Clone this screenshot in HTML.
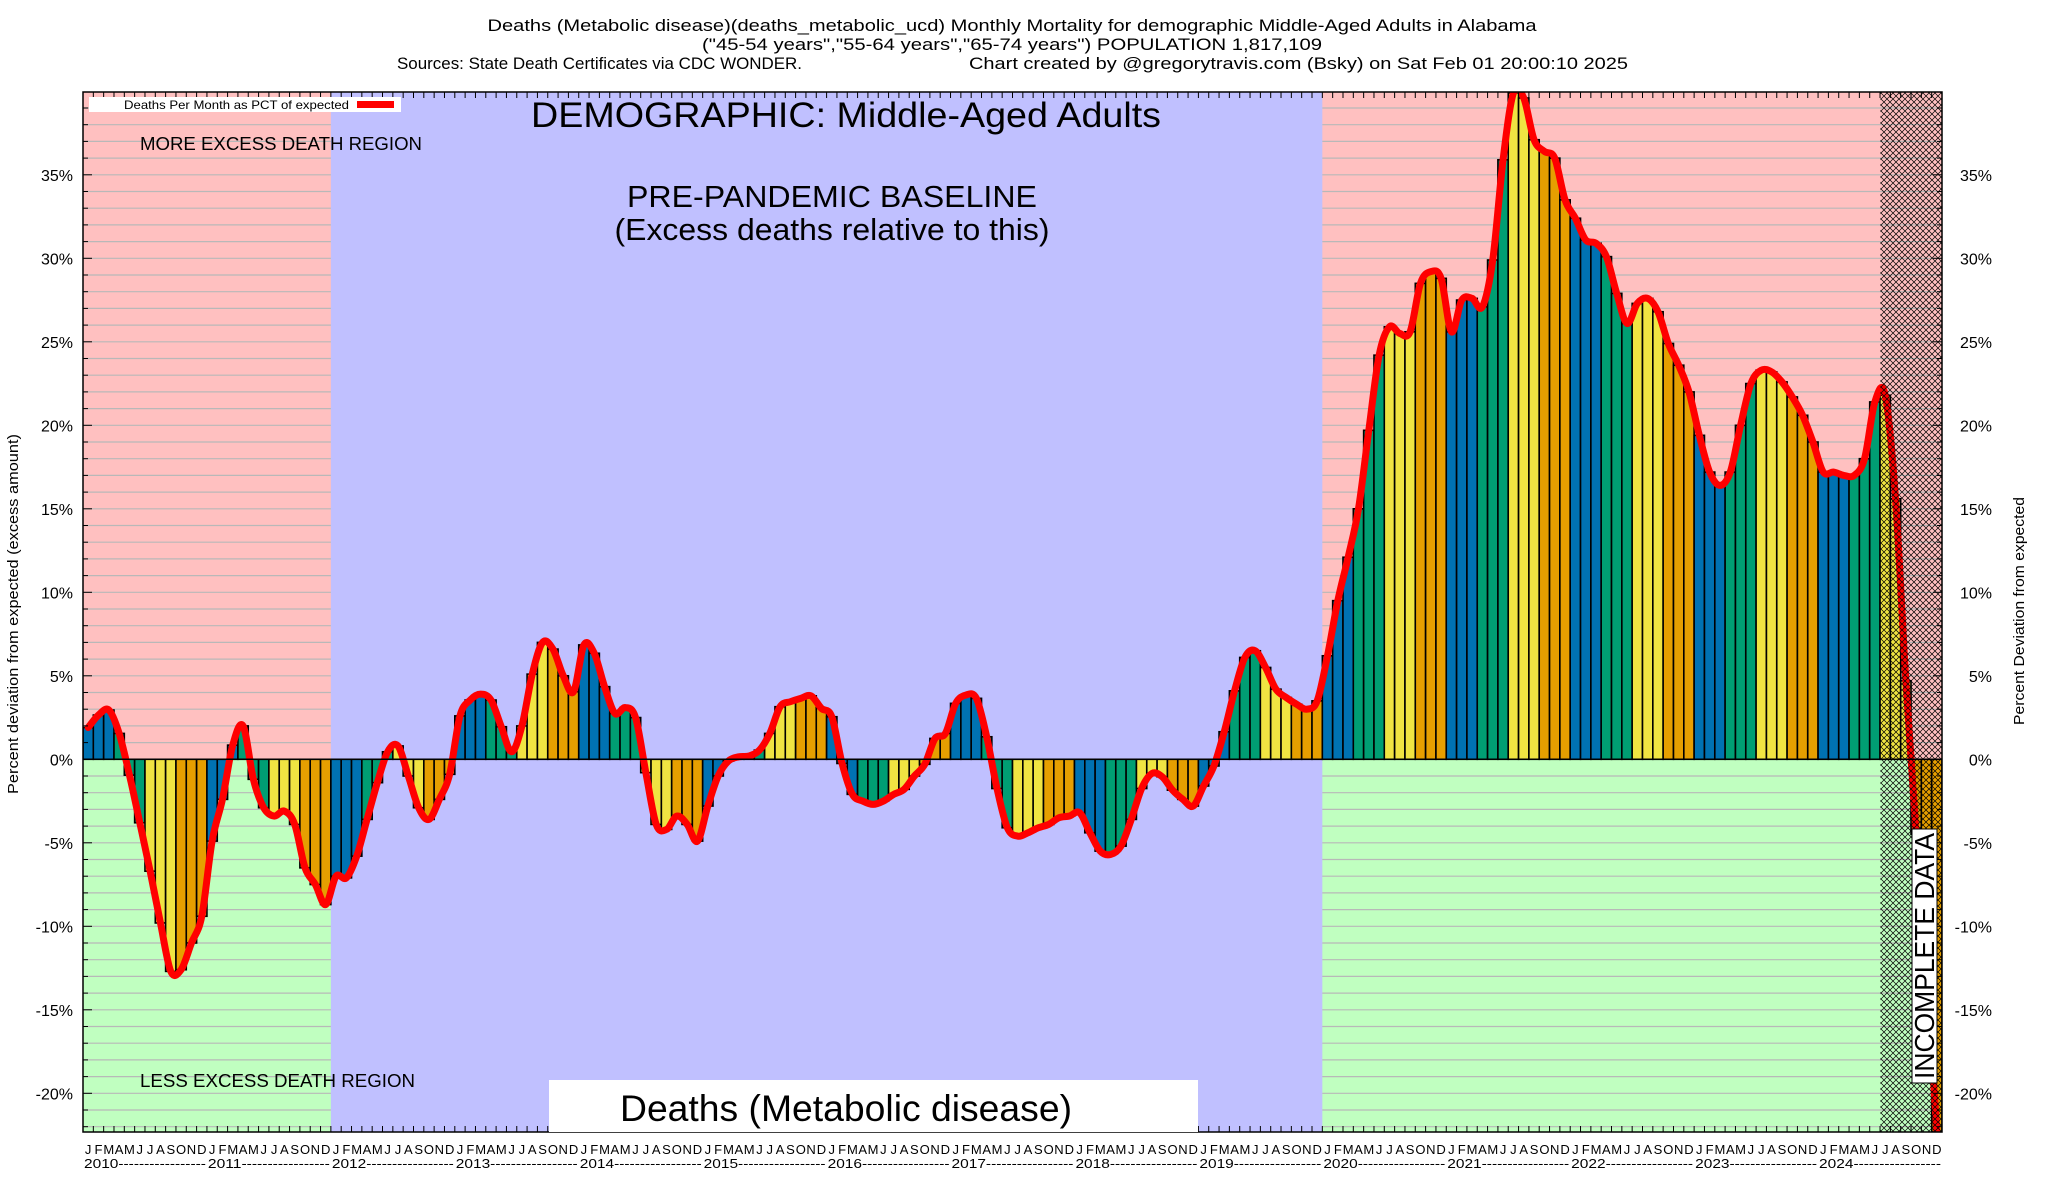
<!DOCTYPE html>
<html><head><meta charset="utf-8">
<style>
html,body{margin:0;padding:0;background:#fff;}
svg{display:block;font-family:"Liberation Sans",sans-serif;}
</style></head>
<body>
<svg id="chart" width="2048" height="1200" viewBox="0 0 2048 1200" xmlns="http://www.w3.org/2000/svg">
<defs>
<pattern id="hatch" width="6" height="6" patternUnits="userSpaceOnUse">
<path d="M0,0L6,6M6,0L0,6" stroke="#000" stroke-width="0.7" fill="none"/>
</pattern>
<clipPath id="plotclip"><rect x="83" y="92" width="1859" height="1040"/></clipPath>
</defs>
<g font-size="17" text-anchor="middle">
<text x="1012" y="31" textLength="1049" lengthAdjust="spacingAndGlyphs">Deaths (Metabolic disease)(deaths_metabolic_ucd) Monthly Mortality for demographic Middle-Aged Adults in Alabama</text>
<text x="1012" y="50" textLength="620" lengthAdjust="spacingAndGlyphs">("45-54 years","55-64 years","65-74 years") POPULATION 1,817,109</text>
<text x="397" y="69" text-anchor="start" textLength="405" lengthAdjust="spacingAndGlyphs">Sources: State Death Certificates via CDC WONDER.</text>
<text x="969" y="69" text-anchor="start" textLength="659" lengthAdjust="spacingAndGlyphs">Chart created by @gregorytravis.com (Bsky) on Sat Feb 01 20:00:10 2025</text>
</g>
<g id="bg"></g>
<g id="grid"></g>
<g id="bluereg"></g>
<g id="bars" clip-path="url(#plotclip)"></g>
<g id="line" clip-path="url(#plotclip)"></g>
<rect x="1880.4" y="92" width="61.6" height="1040" fill="url(#hatch)"/>
<g id="axes"></g>
<g>
<rect x="89" y="97" width="312" height="15" fill="#fff"/>
<text x="349" y="109" font-size="12" text-anchor="end" textLength="225" lengthAdjust="spacingAndGlyphs">Deaths Per Month as PCT of expected</text>
<rect x="357" y="101" width="37" height="7" fill="#ff0000"/>
<text x="846" y="127" font-size="35" text-anchor="middle" textLength="630" lengthAdjust="spacingAndGlyphs">DEMOGRAPHIC: Middle-Aged Adults</text>
<text x="140" y="150" font-size="18" textLength="282" lengthAdjust="spacingAndGlyphs">MORE EXCESS DEATH REGION</text>
<text x="832" y="207" font-size="31" text-anchor="middle" textLength="410" lengthAdjust="spacingAndGlyphs">PRE-PANDEMIC BASELINE</text>
<text x="832" y="240" font-size="31" text-anchor="middle" textLength="435" lengthAdjust="spacingAndGlyphs">(Excess deaths relative to this)</text>
<text x="140" y="1087" font-size="18" textLength="275" lengthAdjust="spacingAndGlyphs">LESS EXCESS DEATH REGION</text>
<rect x="549" y="1080" width="649" height="52" fill="#fff"/>
<text x="846" y="1121" font-size="37" text-anchor="middle" textLength="452" lengthAdjust="spacingAndGlyphs">Deaths (Metabolic disease)</text>
<rect x="1912" y="829" width="25" height="254" fill="#fff" stroke="#000" stroke-width="1"/>
<text transform="translate(1934,1079) rotate(-90)" font-size="28" textLength="246" lengthAdjust="spacingAndGlyphs">INCOMPLETE DATA</text>
<text transform="translate(18,614) rotate(-90)" font-size="15" text-anchor="middle" textLength="360" lengthAdjust="spacingAndGlyphs">Percent deviation from expected (excess amount)</text>
<text transform="translate(2024,611) rotate(-90)" font-size="15" text-anchor="middle" textLength="228" lengthAdjust="spacingAndGlyphs">Percent Deviation from expected</text>
</g>
</svg>
<script>
const years = [2010,2011,2012,2013,2014,2015,2016,2017,2018,2019,2020,2021,2022,2023,2024];
const monthLetters = ["J","F","M","A","M","J","J","A","S","O","N","D"];
const yTicks = [-20,-15,-10,-5,0,5,10,15,20,25,30,35];
const values2010_2014 = [1.9,2.65,2.95,1.55,-0.95,-3.8,-6.7,-9.8,-12.7,-12.6,-11.0,-9.4,
 -4.9,-2.4,0.85,2.0,-1.2,-2.9,-3.4,-3.1,-3.9,-6.5,-7.5,-8.7,
 -7.0,-7.1,-5.8,-3.6,-1.4,0.45,0.8,-1.0,-2.9,-3.6,-2.4,-0.9,
 2.6,3.55,3.9,3.55,1.95,0.45,2.0,5.1,7.0,6.6,5.0,4.05,
 6.85,6.35,4.35,2.75,3.1,2.5,-0.8,-3.9,-4.2,-3.4,-3.9,-4.9];
const values2015_2019 = [-2.8,-1.0,-0.1,0.15,0.2,0.55,1.55,3.15,3.45,3.65,3.8,3.05,
 2.55,-0.25,-2.1,-2.5,-2.7,-2.5,-2.1,-1.8,-1.0,-0.3,1.25,1.55,
 3.35,3.85,3.65,1.35,-1.75,-4.1,-4.6,-4.4,-4.1,-3.9,-3.5,-3.4,
 -3.2,-4.4,-5.5,-5.7,-5.2,-3.6,-1.75,-0.85,-1.05,-1.85,-2.4,-2.8,
 -1.6,-0.4,1.65,4.1,6.1,6.5,5.5,4.2,3.7,3.3,3.0,3.5];
const values2020_2024 = [6.2,9.5,12.1,15.0,19.7,24.2,25.9,25.5,25.6,28.5,29.2,28.8,
 25.6,27.5,27.6,27.1,29.9,35.9,39.9,39.6,37.1,36.4,36.0,33.5,
 32.4,31.1,30.9,30.1,27.9,26.1,27.3,27.6,26.8,24.9,23.6,22.0,
 19.4,17.2,16.4,17.2,20.0,22.5,23.3,23.2,22.6,21.7,20.6,19.0,
 17.2,17.2,17.0,17.0,18.0,21.4,21.8,15.6,4.7,-4.5,-13.0,-22.3];
const values = values2010_2014.concat(values2015_2019, values2020_2024);
const quarterColors = ["#0072b2","#009e73","#f0e442","#e69f00"];

const NS = "http://www.w3.org/2000/svg";
const L = 83, R = 1942, T = 92, B = 1132, Y0 = 759.3, PXPCT = 16.7;
const N = years.length * 12;
const MW = (R - L) / N;
function xs(i){ return L + i * MW; }
function ys(v){ return Y0 - v * PXPCT; }
function mk(tag, attrs, parent){
  const e = document.createElementNS(NS, tag);
  for (const k in attrs) e.setAttribute(k, attrs[k]);
  parent.appendChild(e);
  return e;
}
const bg = document.getElementById('bg');
const xa = xs(24), xb = xs(120);
let r;
r = mk('rect',{x:L,y:T,width:R-L,height:Y0-T,fill:'#ffc0c0'},bg);


r = mk('rect',{x:L,y:Y0,width:R-L,height:B-Y0,fill:'#c0ffc0'},bg);



const grid = document.getElementById('grid');
for (let p = -22; p <= 39; p++) {
  if (p === 0) continue;
  const g = mk('line',{x1:L,x2:R,y1:ys(p),y2:ys(p),stroke:'#b8b8b8','stroke-width':1.2},grid);
  
  
}
r = mk('rect',{x:xa,y:T,width:xb-xa,height:B-T,fill:'#c0c0ff'},document.getElementById('bluereg'));



const bars = document.getElementById('bars');
values.forEach((v,i)=>{
  const y = Math.min(ys(v), Y0), h = Math.abs(ys(v) - Y0);
  const b = mk('rect',{x:xs(i),y:y,width:MW,height:h,fill:quarterColors[Math.floor((i%12)/3)],stroke:'#000','stroke-width':1.6},bars);
  
  
});

const pts = values.map((v,i)=>[xs(i)+MW/2, ys(v)]);
let d = 'M'+pts[0][0]+','+pts[0][1];
for (let i=0;i<pts.length-1;i++){
  const p0 = pts[Math.max(0,i-1)], p1 = pts[i], p2 = pts[i+1], p3 = pts[Math.min(pts.length-1,i+2)];
  const c1 = [p1[0]+(p2[0]-p0[0])/6, p1[1]+(p2[1]-p0[1])/6];
  const c2 = [p2[0]-(p3[0]-p1[0])/6, p2[1]-(p3[1]-p1[1])/6];
  d += 'C'+c1[0]+','+c1[1]+' '+c2[0]+','+c2[1]+' '+p2[0]+','+p2[1];
}
const ln = mk('path',{d:d,fill:'none',stroke:'#ff0000','stroke-width':7,'stroke-linejoin':'round','stroke-linecap':'round'},document.getElementById('line'));



const axes = document.getElementById('axes');
const zl = mk('line',{x1:L,x2:R,y1:Y0,y2:Y0,stroke:'#000','stroke-width':1.5},axes);


const fr = mk('rect',{x:L,y:T,width:R-L,height:B-T,fill:'none',stroke:'#000','stroke-width':1.5},axes);


for (let p = -22; p <= 39; p++) {
  const big = (p % 5 === 0);
  const len = big ? 9 : 5;
  const t1 = mk('line',{x1:L,x2:L+len,y1:ys(p),y2:ys(p),stroke:'#000','stroke-width':1},axes);
  
  
  const t2 = mk('line',{x1:R-len,x2:R,y1:ys(p),y2:ys(p),stroke:'#000','stroke-width':1},axes);
  
  
}
yTicks.forEach(t=>{
  const a = mk('text',{x:73,y:ys(t)+6,'font-size':16,'text-anchor':'end'},axes);
  a.textContent = t+'%';
  
  
  const b = mk('text',{x:1992,y:ys(t)+6,'font-size':16,'text-anchor':'end'},axes);
  b.textContent = t+'%';
  
  
});
for (let i=0;i<=N;i++){
  const t1 = mk('line',{x1:xs(i),x2:xs(i),y1:T,y2:T+6,stroke:'#000','stroke-width':1},axes);
  
  
  const t2 = mk('line',{x1:xs(i),x2:xs(i),y1:B-6,y2:B,stroke:'#000','stroke-width':1},axes);
  
  
}
for (let i=0;i<N;i++){
  const m = mk('text',{x:xs(i)+MW/2,y:1154,'font-size':13,'text-anchor':'middle'},axes);
  m.textContent = monthLetters[i%12];
  
  
}
years.forEach((yr,k)=>{
  const t = mk('text',{x:xs(k*12)+1,y:1168,'font-size':13,textLength:(12*MW-2).toFixed(1),lengthAdjust:'spacingAndGlyphs'},axes);
  t.textContent = yr + '-----------------';
  
  
});
</script>
</body></html>
